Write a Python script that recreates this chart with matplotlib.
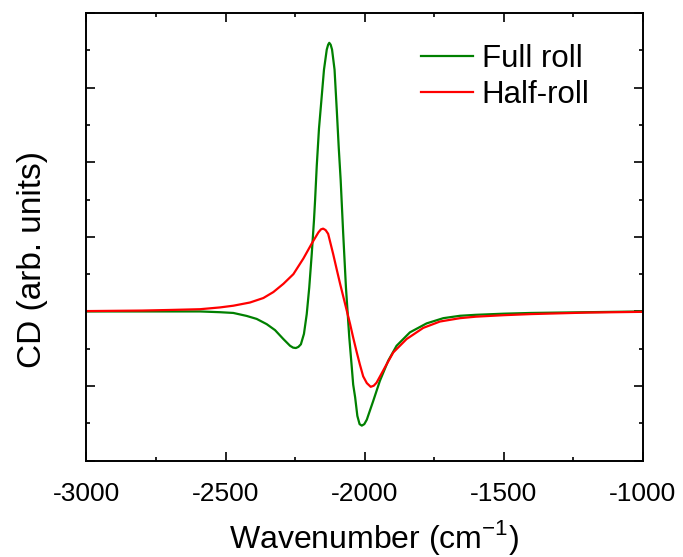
import matplotlib
matplotlib.use("Agg")
import matplotlib.pyplot as plt
from matplotlib.ticker import MultipleLocator, NullFormatter

plt.rcParams['font.family'] = ['Liberation Sans', 'DejaVu Sans']

full_x = [-3000, -2800, -2700, -2592, -2520, -2472, -2424, -2388, -2352, -2322, -2292,
          -2268, -2257, -2247, -2238, -2229, -2218, -2208, -2199, -2190, -2182, -2178,
          -2172, -2164, -2156, -2146, -2136, -2131, -2127, -2122, -2117, -2108, -2100,
          -2093, -2086, -2077, -2067, -2055, -2046, -2041, -2034, -2026, -2018, -2010,
          -2001, -1992, -1969, -1945, -1915, -1885, -1837, -1777, -1717, -1657, -1600,
          -1500, -1400, -1200, -1000]
full_y = [0.0, 0.0, 0.0, 0.0, -0.01, -0.02, -0.06, -0.10, -0.17, -0.25, -0.37,
          -0.46, -0.485, -0.49, -0.475, -0.44, -0.30, -0.035, 0.32, 0.77, 1.22, 1.49,
          1.95, 2.45, 2.80, 3.24, 3.51, 3.575, 3.60, 3.575, 3.51, 3.24, 2.70,
          2.20, 1.76, 1.05, 0.32, -0.35, -0.75, -0.98, -1.15, -1.40, -1.51, -1.53,
          -1.51, -1.45, -1.20, -0.93, -0.66, -0.46, -0.28, -0.16, -0.09, -0.058, -0.045,
          -0.03, -0.02, -0.01, 0.0]

half_x = [-3000, -2800, -2700, -2592, -2520, -2472, -2412, -2364, -2328, -2292, -2256,
          -2220, -2190, -2166, -2157, -2149, -2140, -2131, -2113, -2100, -2088, -2076,
          -2064, -2052, -2041, -2028, -2017, -2005, -1992, -1978, -1967, -1957, -1927,
          -1897, -1849, -1789, -1729, -1657, -1600, -1500, -1400, -1200, -1000]
half_y = [0.005, 0.012, 0.02, 0.03, 0.054, 0.077, 0.12, 0.18, 0.26, 0.37, 0.50,
          0.71, 0.91, 1.06, 1.10, 1.11, 1.09, 1.04, 0.77, 0.56, 0.37, 0.19,
          0.01, -0.17, -0.35, -0.55, -0.71, -0.87, -0.96, -1.01, -0.995, -0.955, -0.75,
          -0.55, -0.37, -0.22, -0.135, -0.09, -0.07, -0.05, -0.035, -0.015, -0.005]

series_labels = ['Full roll', 'Half-roll']
x_ticks = [-3000, -2500, -2000, -1500, -1000]

fig = plt.figure(figsize=(6.83, 5.57), dpi=100)
ax = fig.add_axes([0.1266, 0.1729, 0.941 - 0.1266, 0.9767 - 0.1729])

ax.plot(full_x, full_y, color='#008000', lw=1.6, label=series_labels[0])
ax.plot(half_x, half_y, color='#ff0000', lw=1.6, label=series_labels[1])

ax.set_xlim(-3000, -1000)
ax.set_ylim(-2, 4)
ax.set_xticks(x_ticks)
ax.set_xticklabels([str(v) for v in x_ticks])
ax.xaxis.set_minor_locator(MultipleLocator(250))
ax.yaxis.set_major_locator(MultipleLocator(1))
ax.yaxis.set_minor_locator(MultipleLocator(0.5))
ax.yaxis.set_major_formatter(NullFormatter())

ax.tick_params(which='both', direction='in', top=True, right=True, width=1.2)
ax.tick_params(which='major', length=6.3, labelsize=19, pad=15)
ax.tick_params(which='minor', length=3.2)
for s in ax.spines.values():
    s.set_linewidth(1.4)

ax.set_xlabel('Wavenumber (cm$^{\\mathregular{-1}}$)', fontsize=23, labelpad=9)
ax.set_ylabel('CD (arb. units)', fontsize=24, labelpad=13)
ax.xaxis.label.set_x(0.517)
ax.yaxis.label.set_y(0.449)

leg = ax.legend(loc='upper right', frameon=False, fontsize=22.5, handlelength=1.65,
                handletextpad=0.28, labelspacing=0.17, bbox_to_anchor=(0.955, 0.993))

fig.savefig('out.png', dpi=100)
